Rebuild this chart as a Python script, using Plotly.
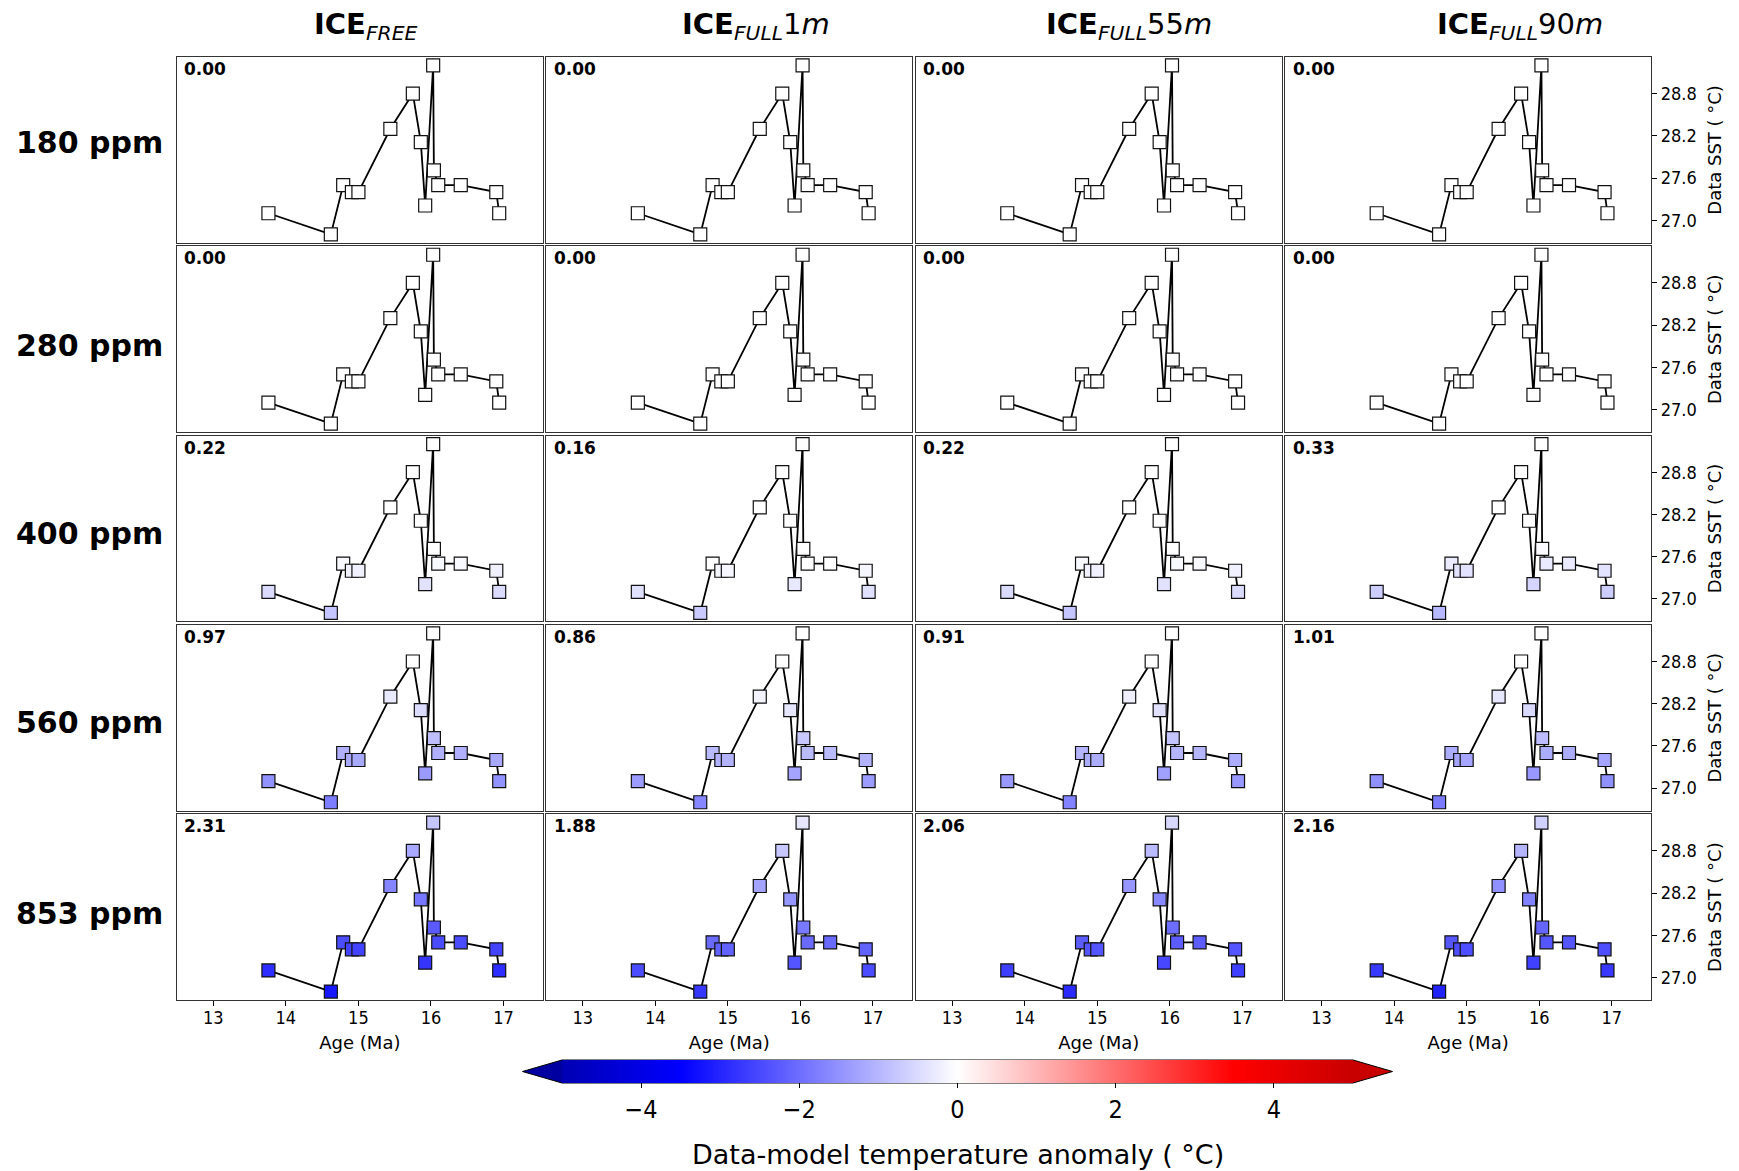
import plotly.graph_objects as go
from plotly.subplots import make_subplots

# ---------------- data ----------------
ages = [13.76, 14.62, 14.79, 14.91, 15.00, 15.44, 15.75, 15.86, 15.92, 16.03, 16.04, 16.10, 16.41, 16.90, 16.94]
sst = [27.10, 26.80, 27.50, 27.40, 27.40, 28.30, 28.80, 28.11, 27.21, 29.20, 27.71, 27.50, 27.50, 27.40, 27.10]

co2_labels = ["180 ppm", "280 ppm", "400 ppm", "560 ppm", "853 ppm"]
run_titles = [
    "<b>ICE</b><sub><i>FREE</i></sub>",
    "<b>ICE</b><sub><i>FULL</i></sub>1<i>m</i>",
    "<b>ICE</b><sub><i>FULL</i></sub>55<i>m</i>",
    "<b>ICE</b><sub><i>FULL</i></sub>90<i>m</i>",
]
scores = [
    [0.00, 0.00, 0.00, 0.00],
    [0.00, 0.00, 0.00, 0.00],
    [0.22, 0.16, 0.22, 0.33],
    [0.97, 0.86, 0.91, 1.01],
    [2.31, 1.88, 2.06, 2.16],
]

anom_180 = [
    [0.00, 0.00, 0.00, 0.00, 0.00, 0.00, 0.00, 0.00, 0.00, 0.00, 0.00, 0.00, 0.00, 0.00, 0.00],
    [0.00, 0.00, 0.00, 0.00, 0.00, 0.00, 0.00, 0.00, 0.00, 0.00, 0.00, 0.00, 0.00, 0.00, 0.00],
    [0.00, 0.00, 0.00, 0.00, 0.00, 0.00, 0.00, 0.00, 0.00, 0.00, 0.00, 0.00, 0.00, 0.00, 0.00],
    [0.00, 0.00, 0.00, 0.00, 0.00, 0.00, 0.00, 0.00, 0.00, 0.00, 0.00, 0.00, 0.00, 0.00, 0.00],
]
anom_280 = [
    [0.00, 0.00, 0.00, 0.00, 0.00, 0.00, 0.00, 0.00, 0.00, 0.00, 0.00, 0.00, 0.00, 0.00, 0.00],
    [0.00, 0.00, 0.00, 0.00, 0.00, 0.00, 0.00, 0.00, 0.00, 0.00, 0.00, 0.00, 0.00, 0.00, 0.00],
    [0.00, 0.00, 0.00, 0.00, 0.00, 0.00, 0.00, 0.00, 0.00, 0.00, 0.00, 0.00, 0.00, 0.00, 0.00],
    [0.00, 0.00, 0.00, 0.00, 0.00, 0.00, 0.00, 0.00, 0.00, 0.00, 0.00, 0.00, 0.00, 0.00, 0.00],
]
anom_400 = [
    [-0.50, -0.80, -0.10, -0.20, -0.20, 0.00, 0.00, 0.00, -0.40, 0.00, 0.00, -0.10, -0.10, -0.20, -0.50],
    [-0.43, -0.73, -0.02, -0.13, -0.13, 0.00, 0.00, 0.00, -0.32, 0.00, 0.00, -0.02, -0.02, -0.13, -0.43],
    [-0.50, -0.80, -0.10, -0.20, -0.20, 0.00, 0.00, 0.00, -0.40, 0.00, 0.00, -0.10, -0.10, -0.20, -0.50],
    [-0.68, -0.98, -0.27, -0.38, -0.38, 0.00, 0.00, 0.00, -0.57, 0.00, -0.07, -0.27, -0.27, -0.38, -0.68],
]
anom_560 = [
    [-1.49, -1.79, -1.08, -1.19, -1.19, -0.29, 0.00, -0.48, -1.38, 0.00, -0.88, -1.08, -1.08, -1.19, -1.49],
    [-1.36, -1.66, -0.95, -1.06, -1.06, -0.16, 0.00, -0.35, -1.25, 0.00, -0.75, -0.95, -0.95, -1.06, -1.36],
    [-1.42, -1.72, -1.01, -1.12, -1.12, -0.22, 0.00, -0.41, -1.31, 0.00, -0.81, -1.01, -1.01, -1.12, -1.42],
    [-1.53, -1.83, -1.12, -1.23, -1.23, -0.33, 0.00, -0.52, -1.42, 0.00, -0.92, -1.12, -1.12, -1.23, -1.53],
]
anom_853 = [
    [-2.88, -3.18, -2.47, -2.58, -2.58, -1.68, -1.18, -1.87, -2.77, -0.78, -2.27, -2.47, -2.47, -2.58, -2.88],
    [-2.45, -2.75, -2.04, -2.15, -2.15, -1.25, -0.75, -1.44, -2.34, -0.35, -1.84, -2.04, -2.04, -2.15, -2.45],
    [-2.63, -2.93, -2.22, -2.33, -2.33, -1.43, -0.93, -1.62, -2.52, -0.53, -2.02, -2.22, -2.22, -2.33, -2.63],
    [-2.73, -3.03, -2.32, -2.43, -2.43, -1.53, -1.03, -1.72, -2.62, -0.63, -2.12, -2.32, -2.32, -2.43, -2.73],
]
anomalies = [anom_180, anom_280, anom_400, anom_560, anom_853]

x_ticks = [13, 14, 15, 16, 17]
y_ticks = [27.0, 27.6, 28.2, 28.8]
cbar_ticks = [-4, -2, 0, 2, 4]

# ---------------- styling ----------------
W, H = 1739, 1171
ML, MR, MT, MB = 177, 88, 57, 171
PW, PH = W - ML - MR, H - MT - MB
FONT = "DejaVu Sans"
TICKFONT = "DejaVu Sans Condensed, DejaVu Sans"

colorscale = [
    [0.0, "rgb(0,0,179)"],
    [0.15, "rgb(0,0,255)"],
    [0.5, "rgb(255,255,255)"],
    [0.85, "rgb(255,0,0)"],
    [1.0, "rgb(200,0,0)"],
]


def fx(px):
    return (px - ML) / PW


def fy(py):
    return 1 - (py - MT) / PH


nrows, ncols = 5, 4
fig = make_subplots(rows=nrows, cols=ncols, horizontal_spacing=0.0025,
                    vertical_spacing=0.0037)

# colorbar geometry (pixels)
cb_left, cb_right, cb_top, cb_bot = 562, 1353, 1060, 1083
tri = 39.5

first = True
for r in range(nrows):
    for c in range(ncols):
        fig.add_trace(
            go.Scatter(
                x=ages, y=sst, mode="lines+markers",
                line=dict(color="black", width=1.8),
                marker=dict(
                    symbol="square", size=13,
                    color=anomalies[r][c], cmin=-5, cmax=5,
                    colorscale=colorscale,
                    line=dict(color="#111111", width=1.2),
                    showscale=first,
                    colorbar=dict(
                        orientation="h", xref="paper", yref="paper",
                        x=fx((cb_left + cb_right) / 2), xanchor="center",
                        y=fy(cb_top), yanchor="top",
                        len=cb_right - cb_left, lenmode="pixels",
                        thickness=cb_bot - cb_top, thicknessmode="pixels",
                        xpad=0, ypad=0, outlinewidth=0,
                        tickvals=cbar_ticks, ticks="outside", ticklen=5,
                        tickcolor="black", tickwidth=1,
                        tickfont=dict(family=TICKFONT, size=25, color="black"),
                    ),
                ),
                showlegend=False, hoverinfo="skip",
            ),
            row=r + 1, col=c + 1,
        )
        first = False
        bottom = r == nrows - 1
        right = c == ncols - 1
        xa = dict(
            range=[12.5, 17.54],
            showline=True, mirror=True, linecolor="#333333", linewidth=1.2,
            showgrid=False, zeroline=False,
            tickvals=x_ticks, ticks="outside" if bottom else "",
            ticklen=5, tickcolor="black",
            showticklabels=bottom,
            tickfont=dict(family=TICKFONT, size=18, color="black"),
        )
        if bottom:
            xa["ticklabelstandoff"] = -4
            xa["title"] = dict(text="Age (Ma)",
                               font=dict(family=FONT, size=18, color="black"),
                               standoff=9)
        fig.update_xaxes(row=r + 1, col=c + 1, **xa)
        ya = dict(
            range=[26.68, 29.32],
            showline=True, mirror=True, linecolor="#333333", linewidth=1.2,
            showgrid=False, zeroline=False,
            side="right",
            tickvals=y_ticks, tickformat=".1f",
            ticks="outside" if right else "", ticklen=5, tickcolor="black",
            showticklabels=right,
            tickfont=dict(family=TICKFONT, size=18, color="black"),
        )
        if right:
            ya["title"] = dict(text="Data SST ( °C)",
                               font=dict(family=FONT, size=18, color="black"),
                               standoff=12)
        fig.update_yaxes(row=r + 1, col=c + 1, **ya)

annotations = []
# score numbers in each panel
for r in range(nrows):
    for c in range(ncols):
        idx = r * ncols + c + 1
        sfx = "" if idx == 1 else str(idx)
        annotations.append(dict(
            text="<b>%.2f</b>" % scores[r][c],
            xref="x%s domain" % sfx, yref="y%s domain" % sfx,
            x=0.0145, y=1.0, xanchor="left", yanchor="top", showarrow=False,
            font=dict(family=FONT, size=17, color="black"),
        ))

# column titles
title_lefts = [312, 680, 1044, 1435]
for c in range(ncols):
    annotations.append(dict(
        text=run_titles[c], xref="paper", yref="paper",
        x=fx(title_lefts[c]), y=fy(26), xanchor="left", yanchor="middle",
        showarrow=False, font=dict(family=FONT, size=29, color="black"),
    ))

# row labels
row_centers = [142.5, 345.5, 533.7, 722, 913]
for r in range(nrows):
    annotations.append(dict(
        text="<b>%s</b>" % co2_labels[r], xref="paper", yref="paper",
        x=fx(14), y=fy(row_centers[r]), xanchor="left", yanchor="middle",
        showarrow=False, font=dict(family=FONT, size=30, color="black"),
    ))

# colorbar title
annotations.append(dict(
    text="Data-model temperature anomaly ( °C)", xref="paper", yref="paper",
    x=fx(958), y=fy(1154.5), xanchor="center", yanchor="middle",
    showarrow=False, font=dict(family=FONT, size=27, color="black"),
))

# colorbar extension triangles + outline
ymid = (cb_top + cb_bot) / 2


def path(pts):
    return "M " + " L ".join("%.6f,%.6f" % (fx(a), fy(b)) for a, b in pts) + " Z"


shapes = [
    dict(type="path", xref="paper", yref="paper",
         path=path([(cb_left, cb_top), (cb_left - tri, ymid), (cb_left, cb_bot)]),
         fillcolor="rgb(0,0,160)", line=dict(width=0)),
    dict(type="path", xref="paper", yref="paper",
         path=path([(cb_right, cb_top), (cb_right + tri, ymid), (cb_right, cb_bot)]),
         fillcolor="rgb(200,0,0)", line=dict(width=0)),
    dict(type="path", xref="paper", yref="paper",
         path=path([(cb_left - tri, ymid), (cb_left, cb_top), (cb_right, cb_top),
                    (cb_right + tri, ymid), (cb_right, cb_bot), (cb_left, cb_bot)]),
         fillcolor="rgba(0,0,0,0)", line=dict(color="black", width=1)),
]

fig.update_layout(
    width=W, height=H,
    margin=dict(l=ML, r=MR, t=MT, b=MB, autoexpand=False),
    paper_bgcolor="white", plot_bgcolor="white",
    font=dict(family=FONT, color="black"),
    annotations=annotations, shapes=shapes,
)

fig.write_html("out.html")
